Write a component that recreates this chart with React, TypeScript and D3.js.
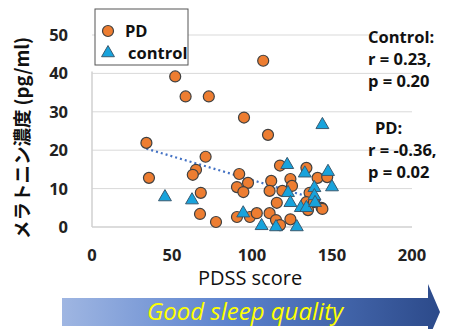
import { useEffect, useRef } from 'react'
import * as d3 from 'd3'

// PD patients (orange circles)
const pdX = [52, 58.5, 73, 95, 107, 110, 34, 71, 65, 63, 35.6, 68, 67.5, 77.5, 117.5, 134, 141, 147, 92, 97.5,
  90.6, 94.6, 112, 124, 125, 111, 119, 136, 134, 138.7, 143.5, 115.5, 135, 90.6, 98.7, 103, 111, 115, 124, 117.5, 144]
const pdY = [39.2, 34, 34, 28.5, 43.3, 24, 21.9, 18.3, 14.9, 13.6, 12.8, 8.9, 3.4, 1.3, 16, 15.4, 12.8, 13, 13.8, 11.5,
  10.4, 9.1, 12, 12.5, 10.7, 9.4, 9.4, 8.9, 6.5, 6.5, 5, 6.3, 4.4, 2.6, 2.6, 3.6, 3.6, 1.8, 2, 0.5, 4.7]

// controls (blue triangles)
const ctlX = [144, 122, 133, 147.5, 150, 122.5, 139, 139, 124, 130.5, 134, 139.4, 94.5, 106, 115, 128, 45.6, 62.5]
const ctlY = [26.6, 16.2, 14, 14.4, 10.4, 8.9, 10.2, 8.1, 6.3, 5, 5, 6.3, 3.6, 0.3, 0, 0, 7.8, 7]

// PD trend line (dotted)
const trendX = [34, 144]
const trendY = [20.4, 6.8]

const xTicks = [0, 50, 100, 150, 200]
const yTicks = [0, 10, 20, 30, 40, 50]

const ctlStats = ['Control:', 'r = 0.23,', 'p = 0.20']
const pdStats = ['PD:', 'r = -0.36,', 'p = 0.02']

const W = 454
const H = 329
const FONT = '"Open Sans", "Noto Sans", sans-serif'

export default function App() {
  const ref = useRef<SVGSVGElement>(null)

  useEffect(() => {
    if (!ref.current) return
    const svg = d3.select(ref.current)
    svg.selectAll('*').remove()

    const x = d3.scaleLinear().domain([0, 200]).range([92, 412])
    const y = d3.scaleLinear().domain([0, 50]).range([227, 35])

    // gridlines
    svg.append('g').selectAll('line')
      .data(yTicks.filter(t => t > 0))
      .join('line')
      .attr('x1', x(0)).attr('x2', x(200))
      .attr('y1', d => y(d)).attr('y2', d => y(d))
      .attr('stroke', '#d9d9d9').attr('stroke-width', 1)

    // axes lines
    svg.append('line')
      .attr('x1', x(0)).attr('x2', x(200)).attr('y1', y(0)).attr('y2', y(0))
      .attr('stroke', '#d0d0d0').attr('stroke-width', 1.5)
    svg.append('line')
      .attr('x1', x(0)).attr('x2', x(0)).attr('y1', y(0)).attr('y2', y(40) - 2)
      .attr('stroke', '#d0d0d0').attr('stroke-width', 1.5)

    // tick labels
    svg.append('g').selectAll('text')
      .data(yTicks)
      .join('text')
      .attr('x', 68).attr('y', d => y(d) + 6)
      .attr('text-anchor', 'end')
      .attr('font-family', FONT).attr('font-size', 16.5).attr('font-weight', 'bold')
      .attr('fill', '#222')
      .text(d => d)
    svg.append('g').selectAll('text')
      .data(xTicks)
      .join('text')
      .attr('x', d => x(d)).attr('y', 261)
      .attr('text-anchor', 'middle')
      .attr('font-family', FONT).attr('font-size', 16.5).attr('font-weight', 'bold')
      .attr('fill', '#222')
      .text(d => d)

    // axis titles
    svg.append('text')
      .attr('x', 250).attr('y', 285)
      .attr('text-anchor', 'middle')
      .attr('font-family', FONT).attr('font-size', 20)
      .attr('fill', '#111')
      .text('PDSS score')
    svg.append('text')
      .attr('transform', `translate(29,138) rotate(-90)`)
      .attr('text-anchor', 'middle')
      .attr('font-family', '"Noto Sans CJK JP", sans-serif').attr('font-size', 18.5).attr('font-weight', 'bold')
      .attr('fill', '#111')
      .text('メラトニン濃度 (pg/ml)')

    // trend line
    const line = d3.line<number>().x(d => x(trendX[d])).y(d => y(trendY[d]))
    svg.append('path')
      .attr('d', line([0, 1]) as string)
      .attr('fill', 'none').attr('stroke', '#4472c4').attr('stroke-width', 2.2)
      .attr('stroke-dasharray', '2 3')

    // PD points
    svg.append('g').selectAll('circle')
      .data(pdX.map((v, i) => [v, pdY[i]]))
      .join('circle')
      .attr('cx', d => x(d[0])).attr('cy', d => y(d[1]))
      .attr('r', 5.5)
      .attr('fill', '#ed7d31').attr('stroke', '#404040').attr('stroke-width', 1.2)

    // control points
    const tri = d3.symbol().type(d3.symbolTriangle).size(72)
    svg.append('g').selectAll('path')
      .data(ctlX.map((v, i) => [v, ctlY[i]]))
      .join('path')
      .attr('transform', d => `translate(${x(d[0])},${y(d[1])})`)
      .attr('d', tri() as string)
      .attr('fill', '#18a3dc').attr('stroke', '#3a5a70').attr('stroke-width', 1)

    // legend
    const lg = svg.append('g')
    lg.append('rect')
      .attr('x', 95).attr('y', 9).attr('width', 93).attr('height', 56)
      .attr('fill', '#fff').attr('stroke', '#555').attr('stroke-width', 1)
    lg.append('circle').attr('cx', 108).attr('cy', 31).attr('r', 5.5)
      .attr('fill', '#ed7d31').attr('stroke', '#404040').attr('stroke-width', 1.2)
    lg.append('text').attr('x', 125).attr('y', 37)
      .attr('font-family', FONT).attr('font-size', 16.5).attr('font-weight', 'bold').attr('fill', '#111')
      .text('PD')
    lg.append('path').attr('transform', 'translate(108,53)').attr('d', tri() as string)
      .attr('fill', '#18a3dc').attr('stroke', '#3a5a70').attr('stroke-width', 1)
    lg.append('text').attr('x', 128).attr('y', 59)
      .attr('font-family', FONT).attr('font-size', 16.5).attr('font-weight', 'bold').attr('fill', '#111')
      .text('control')

    // stats text
    svg.append('g').selectAll('text')
      .data(ctlStats)
      .join('text')
      .attr('x', 368).attr('y', (d, i) => 43 + i * 22)
      .attr('font-family', FONT).attr('font-size', 16.5).attr('font-weight', 'bold').attr('fill', '#111')
      .text(d => d)
    svg.append('g').selectAll('text')
      .data(pdStats)
      .join('text')
      .attr('x', (d, i) => (i === 0 ? 375 : 368)).attr('y', (d, i) => 134 + i * 22)
      .attr('font-family', FONT).attr('font-size', 16.5).attr('font-weight', 'bold').attr('fill', '#111')
      .text(d => d)

    // arrow
    const defs = svg.append('defs')
    const grad = defs.append('linearGradient').attr('id', 'arrowGrad')
      .attr('x1', '0%').attr('x2', '100%').attr('y1', '0%').attr('y2', '0%')
    grad.append('stop').attr('offset', '0%').attr('stop-color', '#9fb6e2')
    grad.append('stop').attr('offset', '45%').attr('stop-color', '#5b82cd')
    grad.append('stop').attr('offset', '100%').attr('stop-color', '#2c4a8a')
    svg.append('path')
      .attr('d', 'M62,298 L428,298 L428,284 L440,312 L428,340 L428,326 L62,326 Z')
      .attr('fill', 'url(#arrowGrad)')
    svg.append('text')
      .attr('x', 245).attr('y', 320)
      .attr('text-anchor', 'middle')
      .attr('font-family', FONT).attr('font-size', 24).attr('font-style', 'italic')
      .attr('fill', '#ffff00')
      .text('Good sleep quality')
  }, [])

  return <svg ref={ref} width={W} height={H} style={{ position: 'absolute', left: 0, top: 0 }} />
}
